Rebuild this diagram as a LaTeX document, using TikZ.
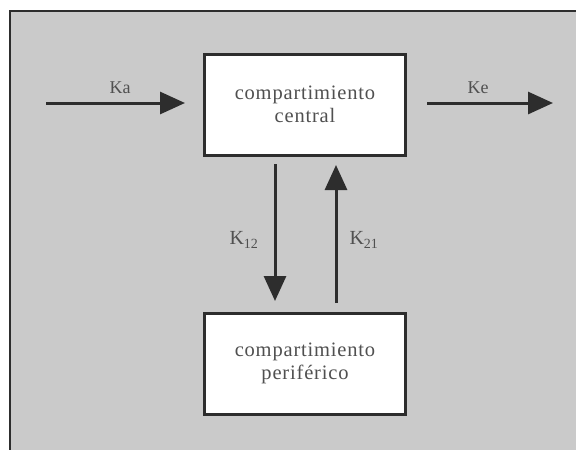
\documentclass[tikz,border=0pt]{standalone}
\usepackage{fontspec}
\setmainfont{Liberation Serif}
\newfontfamily\wideserif[LetterSpace=4]{Liberation Serif}
\usetikzlibrary{arrows.meta}
\definecolor{bg}{RGB}{202,202,202}
\definecolor{ink}{RGB}{45,45,45}
\definecolor{txt}{RGB}{80,80,80}
\begin{document}
\begin{tikzpicture}[x=1pt,y=-1pt,
  box/.style={draw=ink,line width=3pt,fill=white,minimum width=201pt,minimum height=101pt,inner sep=0pt,align=center,font=\wideserif\fontsize{20.5}{23}\selectfont,text=txt},
  flow/.style={draw=ink,line width=3pt,-{Triangle[length=25pt,width=22pt]}},
  lab/.style={font=\fontsize{18}{20}\selectfont,text=txt}]
\useasboundingbox (0,0) rectangle (576,450);
\fill[white] (0,0) rectangle (576,450);
\fill[bg] (10,11) rectangle (576,450);
\draw[ink,line width=1.2pt] (10,450) -- (10,11) -- (576,11);
\node[box] (central) at (305,104.5) {compartimiento\\central};
\node[box] (periph) at (305,363.5) {compartimiento\\periférico};
\coordinate (kain) at (46,103);
\coordinate (kaend) at (185,103);
\coordinate (kestart) at (427,103);
\coordinate (keout) at (553,103);
\draw[flow] (kain) -- (kaend);
\draw[flow] (kestart) -- (keout);
\coordinate (a1) at (275,164);
\coordinate (a2) at (275,301);
\coordinate (b1) at (336,303);
\coordinate (b2) at (336,165);
\draw[flow] (a1) -- (a2);
\draw[flow] (b1) -- (b2);
\node[lab] (ka) at (120,88) {Ka};
\node[lab] (ke) at (478,88) {Ke};
\node[lab,font=\fontsize{20}{22}\selectfont] (k12) at (244,240) {K\textsubscript{12}};
\node[lab,font=\fontsize{20}{22}\selectfont] (k21) at (364,240) {K\textsubscript{21}};
\end{tikzpicture}
\end{document}
